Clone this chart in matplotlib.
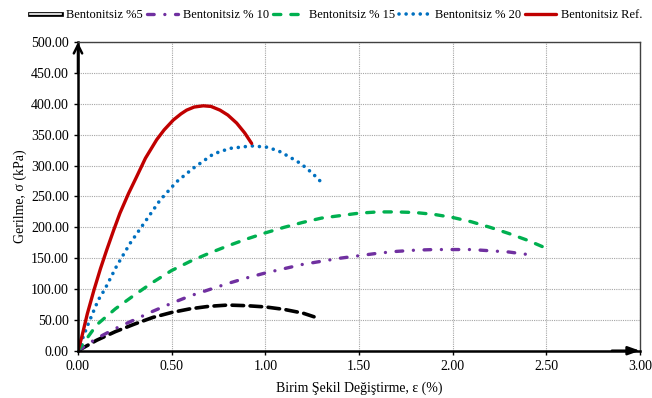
import matplotlib
matplotlib.use("Agg")
import matplotlib.pyplot as plt
import matplotlib.patheffects as pe
from matplotlib.lines import Line2D
from matplotlib.ticker import FormatStrFormatter

# strain (%) and stress (kPa)
strain_5 = [0, 0.1, 0.2, 0.3, 0.4, 0.5, 0.6, 0.7, 0.8, 0.9, 1.0, 1.1, 1.2, 1.26]
stress_5 = [0, 17, 31, 43, 54, 62, 68, 72, 74, 73, 71, 67, 61, 55]

strain_10 = [0, 0.1, 0.2, 0.3, 0.4, 0.5, 0.6, 0.7, 0.8, 0.9, 1.0, 1.1, 1.2,
             1.3, 1.4, 1.5, 1.6, 1.7, 1.8, 1.9, 2.0, 2.1, 2.2, 2.3, 2.4]
stress_10 = [0, 20, 36, 50, 64, 77, 89, 99, 109, 118, 126, 133, 140,
             145, 150, 154, 158, 161, 163, 164, 164, 164, 162, 160, 156]

strain_15 = [0, 0.1, 0.2, 0.3, 0.4, 0.5, 0.6, 0.7, 0.8, 0.9, 1.0, 1.1, 1.2,
             1.3, 1.4, 1.5, 1.6, 1.7, 1.8, 1.9, 2.0, 2.1, 2.2, 2.3, 2.4, 2.5]
stress_15 = [0, 42, 68, 90, 111, 130, 145, 158, 170, 181, 191, 200, 208,
             215, 219, 223, 225, 225, 224, 221, 216, 209, 200, 190, 179, 166]

strain_20 = [0, 0.05, 0.108, 0.144, 0.206, 0.278, 0.358, 0.438, 0.527, 0.616,
             0.723, 0.811, 0.927, 1.007, 1.07, 1.13, 1.18, 1.22, 1.26, 1.306]
stress_20 = [0, 40, 82, 100, 137, 174, 209, 244, 274, 296,
             319, 328, 332, 330, 324, 314, 305, 296, 285, 271]

strain_ref = [0, 0.02, 0.05, 0.085, 0.12, 0.153, 0.19, 0.224, 0.27, 0.313,
              0.36, 0.42, 0.46, 0.509, 0.55, 0.58, 0.62, 0.669, 0.71, 0.758,
              0.80, 0.847, 0.89, 0.927]
stress_ref = [0, 22, 60, 98, 133, 163, 195, 223, 255, 282,
              312, 342, 358, 374, 384, 390, 395, 397, 396, 390,
              382, 369, 353, 336]

labels = ["Bentonitsiz %5", "Bentonitsiz % 10", "Bentonitsiz % 15",
          "Bentonitsiz % 20", "Bentonitsiz Ref."]

style_5 = dict(color="black", lw=2.6, dashes=(3.2, 1.8), dash_capstyle="round")
style_10 = dict(color="#7030A0", lw=2.4, dashes=(2.0, 3.2, 0.01, 3.2),
                dash_capstyle="round")
style_15 = dict(color="#00B050", lw=2.4, dashes=(2.2, 3.0), dash_capstyle="round")
style_20 = dict(color="#0070C0", lw=2.6, dashes=(0.01, 1.95), dash_capstyle="round")
style_ref = dict(color="#C00000", lw=2.4, solid_capstyle="round")

plt.rcParams["font.family"] = ["Liberation Serif", "DejaVu Serif"]
plt.rcParams["font.size"] = 10

fig = plt.figure(figsize=(6.52, 3.98), dpi=100)
ax = fig.add_axes([0.1196, 0.1188, 0.862, 0.775])

ax.plot(strain_5, stress_5, **style_5)
ax.plot(strain_10, stress_10, **style_10)
ax.plot(strain_15, stress_15, **style_15)
ax.plot(strain_20, stress_20, **style_20)
ax.plot(strain_ref, stress_ref, **style_ref)

ax.set_xlim(0, 3)
ax.set_ylim(0, 500)
ax.set_xticks([0, 0.5, 1.0, 1.5, 2.0, 2.5, 3.0])
ax.set_yticks(range(0, 501, 50))
ax.xaxis.set_major_formatter(FormatStrFormatter("%.2f"))
ax.yaxis.set_major_formatter(FormatStrFormatter("%.2f"))
ax.grid(True, color="#a6a6a6", lw=0.8, ls=(0, (1, 1)))
ax.set_axisbelow(True)
ax.tick_params(length=3, width=1, color="black", labelsize=10)

for side in ("top", "right"):
    ax.spines[side].set_color("#404040")
    ax.spines[side].set_linewidth(1)
for side in ("left", "bottom"):
    ax.spines[side].set_color("black")
    ax.spines[side].set_linewidth(1.8)

# arrow heads on the two main axes
ax.annotate("", xy=(0, 1.0), xytext=(0, 0.9), xycoords="axes fraction",
            arrowprops=dict(arrowstyle="->,head_length=0.6,head_width=0.3",
                            lw=1.8, color="black", shrinkA=0, shrinkB=0))
ax.annotate("", xy=(1.0, 0), xytext=(0.95, 0), xycoords="axes fraction",
            arrowprops=dict(arrowstyle="-|>,head_length=0.7,head_width=0.25",
                            lw=1.8, color="black", shrinkA=0, shrinkB=0))

ax.set_xlabel("Birim Şekil Değiştirme, ε (%)", labelpad=6)
ax.set_ylabel("Gerilme, σ (kPa)", labelpad=3)

handles = [
    Line2D([], [], color="white", lw=1.2,
           path_effects=[pe.Stroke(linewidth=3.4, foreground="black"), pe.Normal()]),
    Line2D([], [], **style_10),
    Line2D([], [], **style_15),
    Line2D([], [], **style_20),
    Line2D([], [], **style_ref),
]
fig.legend(handles, labels, loc="center", bbox_to_anchor=(0.516, 0.962), ncol=5,
           frameon=False, handlelength=2.5, handletextpad=0.4, columnspacing=0.3,
           fontsize=9, borderaxespad=0, borderpad=0)

fig.savefig("out.png", dpi=100)
